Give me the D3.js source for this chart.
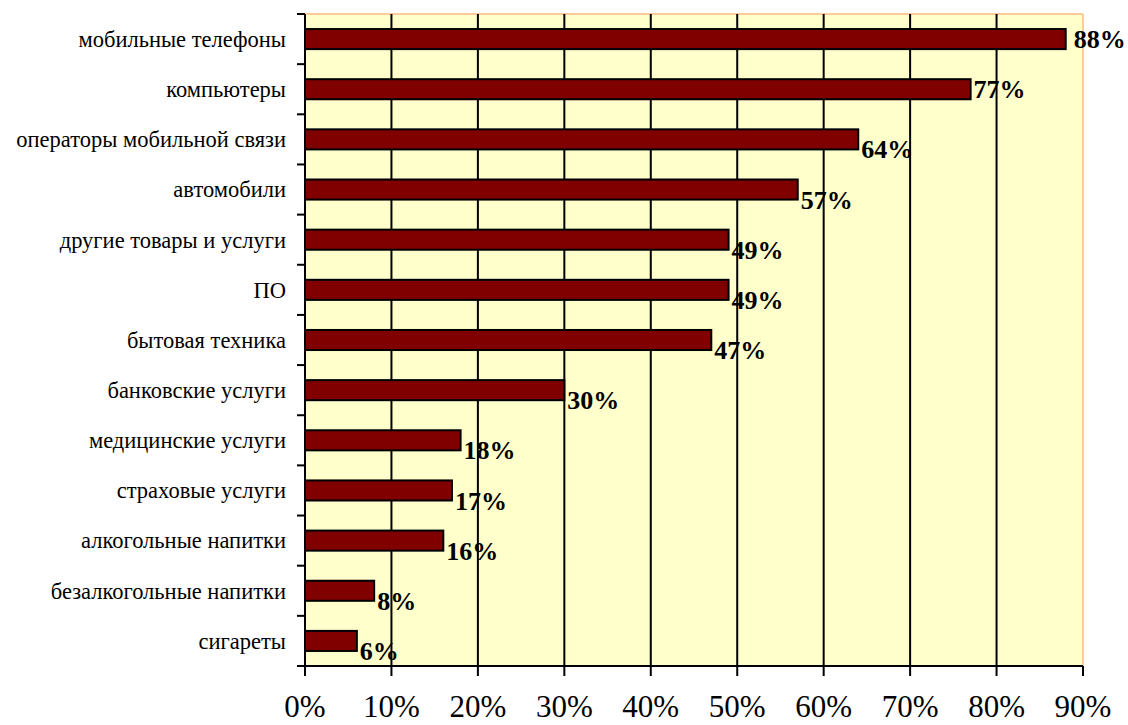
<!DOCTYPE html>
<html>
<head>
<meta charset="utf-8">
<script src="https://cdn.jsdelivr.net/npm/d3@7"></script>
<style>
  body { margin: 0; background: #fff; }
  svg { display: block; }
  text { font-family: "Liberation Serif", "Times New Roman", serif; fill: #000; }
</style>
</head>
<body>
<svg width="1128" height="725"></svg>
<script>
const categories = [
  "мобильные телефоны",
  "компьютеры",
  "операторы мобильной связи",
  "автомобили",
  "другие товары и услуги",
  "ПО",
  "бытовая техника",
  "банковские услуги",
  "медицинские услуги",
  "страховые услуги",
  "алкогольные напитки",
  "безалкогольные напитки",
  "сигареты",
];
const values = [88, 77, 64, 57, 49, 49, 47, 30, 18, 17, 16, 8, 6];
const xTicks = [0, 10, 20, 30, 40, 50, 60, 70, 80, 90];

const svg = d3.select("svg");
const margin = { left: 305, right: 45, top: 14, bottom: 59 };
const width = 1128 - margin.left - margin.right;
const height = 725 - margin.top - margin.bottom;

const g = svg.append("g").attr("transform", `translate(${margin.left},${margin.top})`);

const x = d3.scaleLinear().domain([0, 90]).range([0, width]);
const y = d3.scaleBand().domain(categories).range([0, height]).paddingInner(0.6).paddingOuter(0.3);

// plot background
g.append("rect")
  .attr("width", width)
  .attr("height", height)
  .attr("fill", "#ffffcc");

g.append("line")
  .attr("x1", 0).attr("x2", width).attr("y1", 0).attr("y2", 0)
  .attr("stroke", "#ffcc99").attr("stroke-width", 2);
g.append("line")
  .attr("x1", width).attr("x2", width).attr("y1", 0).attr("y2", height)
  .attr("stroke", "#ffcc99").attr("stroke-width", 2);

// vertical grid
g.append("g")
  .selectAll("line")
  .data(xTicks.filter((d) => d > 0 && d < 90))
  .join("line")
  .attr("x1", (d) => x(d)).attr("x2", (d) => x(d))
  .attr("y1", 0).attr("y2", height)
  .attr("stroke", "#000").attr("stroke-width", 2);

// bars
g.append("g")
  .selectAll("rect")
  .data(values)
  .join("rect")
  .attr("x", 0)
  .attr("y", (d, i) => y(categories[i]))
  .attr("width", (d) => x(d))
  .attr("height", y.bandwidth())
  .attr("fill", "#800000")
  .attr("stroke", "#000")
  .attr("stroke-width", 2);

// value labels
g.append("g")
  .selectAll("text")
  .data(values)
  .join("text")
  .attr("x", (d, i) => x(d) + (i === 0 ? 8 : 3))
  .attr("y", (d, i) => y(categories[i]) + y.bandwidth() / 2 + (i < 2 ? 0 : 10))
  .attr("dy", "0.35em")
  .attr("font-size", 26)
  .attr("font-weight", "bold")
  .text((d) => d + "%");

// y axis
const bandStep = height / categories.length;
const yAxis = g.append("g");
yAxis.append("line")
  .attr("x1", 0).attr("x2", 0).attr("y1", 0).attr("y2", height)
  .attr("stroke", "#000").attr("stroke-width", 2);
yAxis.selectAll("line.tick")
  .data(d3.range(categories.length + 1))
  .join("line")
  .attr("class", "tick")
  .attr("x1", -8).attr("x2", 0)
  .attr("y1", (d) => d * bandStep).attr("y2", (d) => d * bandStep)
  .attr("stroke", "#000").attr("stroke-width", 2);
yAxis.selectAll("text")
  .data(categories)
  .join("text")
  .attr("x", -19)
  .attr("y", (d) => y(d) + y.bandwidth() / 2)
  .attr("dy", "0.35em")
  .attr("text-anchor", "end")
  .attr("font-size", 22.5)
  .text((d) => d);

// x axis
const xAxis = g.append("g").attr("transform", `translate(0,${height})`);
xAxis.append("line")
  .attr("x1", 0).attr("x2", width)
  .attr("stroke", "#000").attr("stroke-width", 2);
xAxis.selectAll("line.tick")
  .data(xTicks)
  .join("line")
  .attr("class", "tick")
  .attr("x1", (d) => x(d)).attr("x2", (d) => x(d))
  .attr("y1", 0).attr("y2", 10)
  .attr("stroke", "#000").attr("stroke-width", 2);
xAxis.selectAll("text")
  .data(xTicks)
  .join("text")
  .attr("x", (d) => x(d))
  .attr("y", 51)
  .attr("text-anchor", "middle")
  .attr("font-size", 31)
  .text((d) => d + "%");
</script>
</body>
</html>
